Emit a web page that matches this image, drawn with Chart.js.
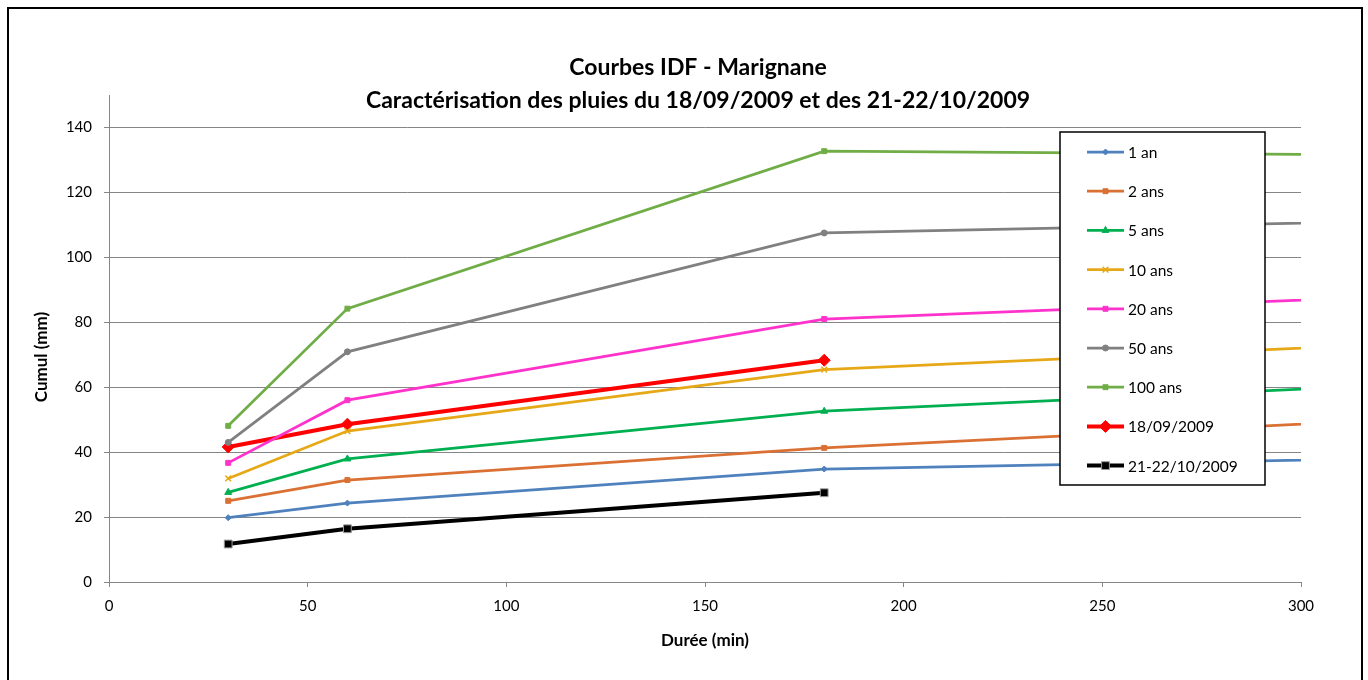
<!DOCTYPE html>
<html>
<head>
<meta charset="utf-8">
<title>Courbes IDF - Marignane</title>
<script src="https://cdn.jsdelivr.net/npm/chart.js"></script>
<style>
    body { margin: 0; background: #fff; }
    #wrap { width: 1368px; height: 680px; }
</style>
</head>
<body>
<div id="wrap"><canvas id="idf"></canvas></div>
<script>
// Durées (min) et cumuls (mm)
const durees = [30, 60, 180, 360];
const an1 = [19.8, 24.3, 34.8, 38.9];
const ans2 = [25.0, 31.4, 41.3, 52.3];
const ans5 = [27.6, 37.9, 52.6, 62.8];
const ans10 = [31.9, 46.5, 65.4, 75.3];
const ans20 = [36.7, 56.0, 81.0, 89.7];
const ans50 = [43.0, 70.9, 107.5, 112.0];
const ans100 = [48.1, 84.2, 132.7, 131.2];
const pluie1809 = [41.6, 48.6, 68.3];
const pluie2110 = [11.7, 16.4, 27.5];

const titre = ['Courbes IDF - Marignane', 'Caractérisation des pluies du 18/09/2009 et des 21-22/10/2009'];
const titreY = 'Cumul (mm)';
const font = 'Lato';

function pts(values) {
    return values.map((v, i) => ({ x: durees[i], y: v }));
}

function serie(label, values, color, style, radius, width) {
    return {
        label: label,
        data: pts(values),
        borderColor: color,
        backgroundColor: color,
        borderWidth: width,
        pointStyle: style,
        pointRadius: radius,
        pointBorderWidth: style === 'crossRot' ? 1.5 : 1,
        pointBorderColor: color,
        pointBackgroundColor: color,
        tension: 0
    };
}

const datasets = [
    serie('1 an', an1, '#4F81BD', 'rectRot', 3, 2.75),
    serie('2 ans', ans2, '#DA7033', 'rect', 3.5, 2.75),
    serie('5 ans', ans5, '#00B050', 'triangle', 4, 2.75),
    serie('10 ans', ans10, '#E6A817', 'crossRot', 4, 2.75),
    serie('20 ans', ans20, '#FF33CC', 'rect', 3.5, 2.75),
    serie('50 ans', ans50, '#808080', 'circle', 3, 2.75),
    serie('100 ans', ans100, '#70AD47', 'rect', 3.5, 2.75),
    serie('18/09/2009', pluie1809, '#FF0000', 'rectRot', 6, 4),
    serie('21-22/10/2009', pluie2110, '#000000', 'rect', 5.5, 4)
];
datasets[8].pointBorderColor = '#999999';

// cadre, titres et légende encadrée dans la zone de tracé
const decor = {
    id: 'decor',
    beforeDraw(chart) {
        const ctx = chart.ctx;
        ctx.save();
        ctx.fillStyle = '#fff';
        ctx.fillRect(0, 0, chart.width, chart.height);
        ctx.strokeStyle = '#000';
        ctx.lineWidth = 2;
        ctx.strokeRect(8, 8, 1354, 700);
        ctx.restore();
    },
    afterDraw(chart) {
        const ctx = chart.ctx;
        ctx.save();
        ctx.fillStyle = '#000';
        ctx.textAlign = 'center';
        ctx.textBaseline = 'middle';
        ctx.font = 'bold 23px ' + font;
        ctx.fillText(titre[0], 698, 68);
        ctx.fillText(titre[1], 698, 101);

        // titre de l'axe vertical
        ctx.save();
        ctx.translate(42, 357);
        ctx.rotate(-Math.PI / 2);
        ctx.font = 'bold 17px ' + font;
        ctx.fillText(titreY, 0, 0);
        ctx.restore();

        // légende
        const bx = 1060, by = 132, bw = 205, bh = 353;
        ctx.fillStyle = '#fff';
        ctx.fillRect(bx, by, bw, bh);
        ctx.strokeStyle = '#000';
        ctx.lineWidth = 1.5;
        ctx.strokeRect(bx, by, bw, bh);
        ctx.textAlign = 'left';
        ctx.font = '15.5px ' + font;
        chart.data.datasets.forEach((ds, i) => {
            const y = 152 + i * 39.2;
            ctx.strokeStyle = ds.borderColor;
            ctx.lineWidth = ds.borderWidth;
            ctx.beginPath();
            ctx.moveTo(1087, y);
            ctx.lineTo(1124, y);
            ctx.stroke();
            ctx.fillStyle = ds.pointBackgroundColor;
            ctx.strokeStyle = ds.pointBorderColor;
            ctx.lineWidth = ds.pointBorderWidth;
            Chart.helpers.drawPoint(ctx, {
                pointStyle: ds.pointStyle,
                radius: ds.pointRadius,
                rotation: 0,
                borderWidth: ds.pointBorderWidth
            }, 1105.5, y);
            ctx.fillStyle = '#000';
            ctx.fillText(ds.label, 1128, y + 1);
        });
        ctx.restore();
    }
};

new Chart(document.getElementById('idf'), {
    type: 'line',
    data: { datasets: datasets },
    plugins: [decor],
    options: {
        responsive: true,
        maintainAspectRatio: false,
        animation: false,
        layout: { padding: { left: 30, right: 67, top: 95, bottom: 25 } },
        plugins: {
            legend: { display: false },
            title: { display: false },
            tooltip: { enabled: false }
        },
        scales: {
            x: {
                type: 'linear',
                min: 0,
                max: 300,
                ticks: { stepSize: 50, color: '#000', padding: 10, font: { family: font, size: 15 } },
                grid: { drawOnChartArea: false, tickLength: 5, color: '#868686' },
                border: { color: '#868686' },
                title: { display: true, text: 'Durée (min)', color: '#000', font: { family: font, size: 17, weight: 'bold' } },
                afterFit(scale) { scale.height = 73; }
            },
            y: {
                min: 0,
                max: 150,
                ticks: { stepSize: 20, includeBounds: false, color: '#000', padding: 12, font: { family: font, size: 15 } },
                grid: { tickLength: 5, color: '#868686' },
                border: { color: '#868686' },
                title: { display: false },
                afterFit(scale) { scale.width = 79; }
            }
        }
    }
});
</script>
</body>
</html>
